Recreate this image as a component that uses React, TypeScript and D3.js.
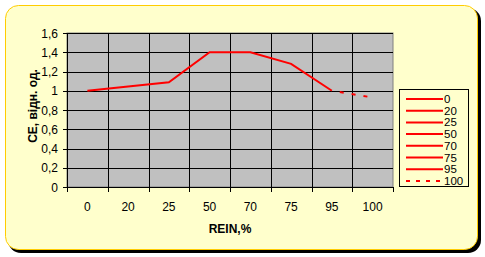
import React from "react";
import * as d3 from "d3";

const categories = ["0", "20", "25", "50", "70", "75", "95", "100"];
const values = [1.0, 1.045, 1.088, 1.4, 1.4, 1.28, 1.0, 0.93];
const yTicks = [0, 0.2, 0.4, 0.6, 0.8, 1, 1.2, 1.4, 1.6];
const dashedFrom = 7; // segment ending at this index is dashed

const W = 485, H = 257;
const plot = { left: 67, right: 393, top: 33, bottom: 187 };

export default function App() {
  const x = d3.scaleBand().domain(categories).range([plot.left, plot.right]).paddingInner(0).paddingOuter(0);
  const y = d3.scaleLinear().domain([0, 1.6]).range([plot.bottom, plot.top]);
  const cx = (c: string) => (x(c) as number) + x.bandwidth() / 2;
  const fmt = (v: number) => d3.format(".1f")(v).replace(".", ",").replace(/,0$/, "");
  const font = "Arial, 'Liberation Sans', sans-serif";
  const line = d3.line<[number, number]>().x(d => d[0]).y(d => d[1]);
  const pts: [number, number][] = categories.map((c, i) => [cx(c), y(values[i])]);
  const solid = pts.slice(0, dashedFrom);
  const dashed = pts.slice(dashedFrom - 1);
  const boundaries = d3.range(categories.length + 1).map(i => plot.left + i * x.bandwidth());

  return (
    <svg width={W} height={H} style={{ position: "absolute", left: 0, top: 0 }}>
      {/* shadow */}
      <rect x={8} y={8} width={473} height={245} rx={13} fill="#000" />
      <rect x={5.5} y={5.5} width={472} height={244} rx={13} fill="#FFFFCC" stroke="#FFCC00" strokeWidth={1} />
      {/* plot area */}
      <rect x={plot.left} y={plot.top} width={plot.right - plot.left} height={plot.bottom - plot.top} fill="#C0C0C0" stroke="#808080" strokeWidth={1} />
      {yTicks.map(t => (
        <line key={"g" + t} x1={plot.left} x2={plot.right} y1={Math.round(y(t)) + 0.5} y2={Math.round(y(t)) + 0.5} stroke="#000" strokeWidth={1} />
      ))}
      {boundaries.slice(1, -1).map((b, i) => (
        <line key={"v" + i} x1={Math.round(b) + 0.5} x2={Math.round(b) + 0.5} y1={plot.top} y2={plot.bottom} stroke="#000" strokeWidth={1} />
      ))}
      {/* axes */}
      <line x1={plot.left + 0.5} x2={plot.left + 0.5} y1={plot.top} y2={plot.bottom + 0.5} stroke="#000" />
      <line x1={plot.left} x2={plot.right + 1} y1={plot.bottom + 0.5} y2={plot.bottom + 0.5} stroke="#000" />
      {yTicks.map(t => (
        <g key={"yt" + t}>
          <line x1={plot.left - 4} x2={plot.left} y1={Math.round(y(t)) + 0.5} y2={Math.round(y(t)) + 0.5} stroke="#000" />
          <text x={plot.left - 9} y={y(t) + 4.5} textAnchor="end" fontFamily={font} fontSize={12} fill="#000">{fmt(t)}</text>
        </g>
      ))}
      {boundaries.map((b, i) => (
        <line key={"xt" + i} x1={Math.round(b) + 0.5} x2={Math.round(b) + 0.5} y1={plot.bottom} y2={plot.bottom + 5} stroke="#000" />
      ))}
      {categories.map(c => (
        <text key={"xl" + c} x={cx(c)} y={211} textAnchor="middle" fontFamily={font} fontSize={12} fill="#000">{c}</text>
      ))}
      {/* data */}
      <path d={line(solid) as string} fill="none" stroke="#FF0000" strokeWidth={2} />
      <path d={line(dashed) as string} fill="none" stroke="#FF0000" strokeWidth={2} strokeDasharray="4 8" strokeDashoffset={-8} />
      {/* titles */}
      <text x={230} y={233} textAnchor="middle" fontFamily={font} fontSize={12} fontWeight="bold" fill="#000">REIN,%</text>
      <text transform="translate(37,106) rotate(-90)" textAnchor="middle" fontFamily={font} fontSize={12} fontWeight="bold" fill="#000">CE, відн. од.</text>
      {/* legend */}
      <rect x={399.5} y={89.5} width={69} height={97} fill="#FFFFCC" stroke="#000" />
      {categories.map((c, i) => {
        const ly = 99 + i * 11.7;
        return (
          <g key={"lg" + c}>
            <line x1={406} x2={443} y1={ly} y2={ly} stroke="#FF0000" strokeWidth={2} strokeDasharray={i === dashedFrom ? "4 6" : undefined} />
            <text x={444} y={ly + 4} fontFamily={font} fontSize={11.5} fill="#000">{c}</text>
          </g>
        );
      })}
    </svg>
  );
}
